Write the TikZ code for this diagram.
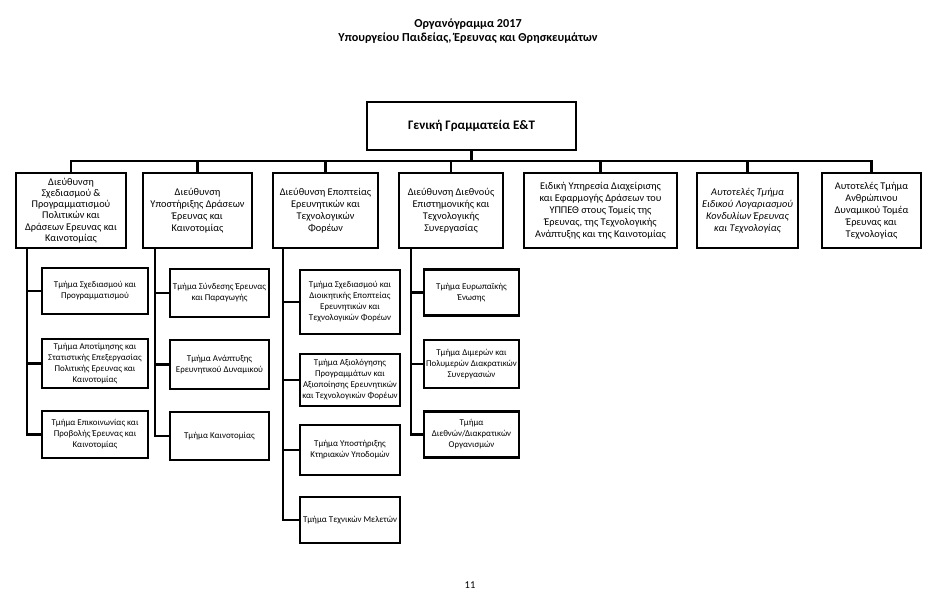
\documentclass[tikz,border=0pt]{standalone}
\usepackage{fontspec}
\setmainfont{Carlito}

\tikzset{
    box/.style={draw, rectangle, line width=2.2pt, inner sep=1pt, align=center},
    dirbox/.style={box, minimum height=75pt, font=\fontsize{10.3}{11.9}\selectfont},
    subbox/.style={box, font=\fontsize{8.9}{11}\selectfont},
    link/.style={line width=2.2pt}
}

\begin{document}
\begin{tikzpicture}[x=1pt, y=-1pt]
        \path[use as bounding box] (0,0) rectangle (934,594);

        % Title
        \node[font=\bfseries\fontsize{12.2}{14}\selectfont] (t1) at (468,24) {Οργανόγραμμα 2017};
        \node[font=\bfseries\fontsize{12.2}{14}\selectfont] (t2) at (468,38) {Υπουργείου Παιδείας, Έρευνας και Θρησκευμάτων};

        % General secretariat
        \node[box, minimum width=209pt, minimum height=48pt, font=\bfseries\fontsize{13}{15}\selectfont] (gen) at (471.5,126) {Γενική Γραμματεία Ε\&Τ};

        % Directorates
        \node[dirbox, minimum width=110pt, font=\fontsize{10.3}{11.3}\selectfont] (d1) at (71,210.5) {Διεύθυνση\\Σχεδιασμού \&\\Προγραμματισμού\\Πολιτικών και\\Δράσεων Ερευνας και\\Καινοτομίας};
        \node[dirbox, minimum width=109pt] (d2) at (197.5,210.5) {Διεύθυνση\\Υποστήριξης Δράσεων\\Έρευνας και\\Καινοτομίας};
        \node[dirbox, minimum width=105pt] (d3) at (325.5,210.5) {Διεύθυνση Εποπτείας\\Ερευνητικών και\\Τεχνολογικών\\Φορέων};
        \node[dirbox, minimum width=104pt] (d4) at (451,210.5) {Διεύθυνση Διεθνούς\\Επιστημονικής και\\Τεχνολογικής\\Συνεργασίας};
        \node[dirbox, minimum width=153pt] (d5) at (600.5,210.5) {Ειδική Υπηρεσία Διαχείρισης\\και Εφαρμογής Δράσεων του\\ΥΠΠΕΘ στους Τομείς της\\Έρευνας, της Τεχνολογικής\\Ανάπτυξης και της Καινοτομίας};
        \node[dirbox, minimum width=101pt, font=\itshape\fontsize{10.3}{11.9}\selectfont] (d6) at (747.5,210.5) {Αυτοτελές Τμήμα\\Ειδικού Λογαριασμού\\Κονδυλίων Έρευνας\\και Τεχνολογίας};
        \node[dirbox, minimum width=99pt] (d7) at (871.5,210.5) {Αυτοτελές Τμήμα\\Ανθρώπινου\\Δυναμικού Τομέα\\Έρευνας και\\Τεχνολογίας};

        % Departments, first column
        \node[subbox, minimum width=106pt, minimum height=46pt] (s11) at (95,291) {Τμήμα Σχεδιασμού και\\Προγραμματισμού};
        \node[subbox, minimum width=106pt, minimum height=49pt] (s12) at (95,363.5) {Τμήμα Αποτίμησης και\\Στατιστικής Επεξεργασίας\\Πολιτικής Ερευνας και\\Καινοτομίας};
        \node[subbox, minimum width=106pt, minimum height=47pt] (s13) at (95,434.5) {Τμήμα Επικοινωνίας και\\Προβολής Έρευνας και\\Καινοτομίας};

        % Departments, second column
        \node[subbox, minimum width=99pt, minimum height=48pt] (s21) at (219.5,293) {Τμήμα Σύνδεσης Έρευνας\\και Παραγωγής};
        \node[subbox, minimum width=99pt, minimum height=49pt] (s22) at (219.5,364.5) {Τμήμα Ανάπτυξης\\Ερευνητικού Δυναμικού};
        \node[subbox, minimum width=99pt, minimum height=48pt] (s23) at (219.5,436) {Τμήμα Καινοτομίας};

        % Departments, third column
        \node[subbox, minimum width=100pt, minimum height=64pt] (s31) at (350,302) {Τμήμα Σχεδιασμού και\\Διοικητικής Εποπτείας\\Ερευνητικών και\\Τεχνολογικών Φορέων};
        \node[subbox, minimum width=100pt, minimum height=52pt] (s32) at (350,380) {Τμήμα Αξιολόγησης\\Προγραμμάτων και\\Αξιοποίησης Ερευνητικών\\και Τεχνολογικών Φορέων};
        \node[subbox, minimum width=100pt, minimum height=50pt] (s33) at (350,450) {Τμήμα Υποστήριξης\\Κτηριακών Υποδομών};
        \node[subbox, minimum width=100pt, minimum height=46pt] (s34) at (350,520) {Τμήμα Τεχνικών Μελετών};

        % Departments, fourth column
        \node[subbox, minimum width=95pt, minimum height=46pt] (s41) at (471.5,292.5) {Τμήμα Ευρωπαϊκής\\Ένωσης};
        \node[subbox, minimum width=95pt, minimum height=48pt] (s42) at (471.5,364) {Τμήμα Διμερών και\\Πολυμερών Διακρατικών\\Συνεργασιών};
        \node[subbox, minimum width=95pt, minimum height=46pt] (s43) at (471.5,434.5) {Τμήμα\\Διεθνών/Διακρατικών\\Οργανισμών};

        % Page number
        \node[font=\fontsize{10.5}{12}\selectfont] (pg) at (470,585) {11};

        % Bus below the general secretariat
        \coordinate (bus) at (471.5,161);
        \draw[link] (gen.south) -- (bus);
        \draw[link] (d1.north) -- (d1.north |- bus) -- (d7.north |- bus) -- (d7.north);
        \foreach \n in {d2,d3,d4,d5,d6}
            \draw[link] (\n.north) -- (\n.north |- bus);

        % Spines under the directorates
        \coordinate (c1) at (27,248);
        \coordinate (c2) at (155,248);
        \coordinate (c3) at (283,248);
        \coordinate (c4) at (411,248);
        \foreach \s in {s11,s12,s13}
            \draw[link] (c1) |- (\s.west);
        \foreach \s in {s21,s22,s23}
            \draw[link] (c2) |- (\s.west);
        \foreach \s in {s31,s32,s33,s34}
            \draw[link] (c3) |- (\s.west);
        \foreach \s in {s41,s42,s43}
            \draw[link] (c4) |- (\s.west);
\end{tikzpicture}
\end{document}
